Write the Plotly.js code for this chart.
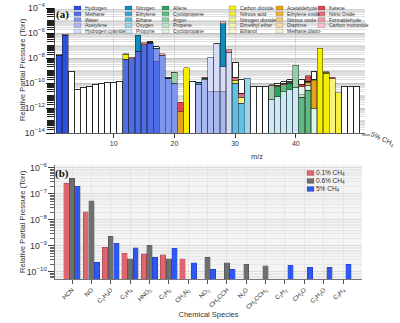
<!DOCTYPE html>
<html><head><meta charset="utf-8">
<script src="https://cdn.plot.ly/plotly-3.0.1.min.js"></script>
<style>html,body{margin:0;padding:0;background:#fff}#chart{width:400px;height:323px}</style>
</head><body><div id="chart"></div>
<script>
// ---------- Panel (a): contributions per species, [m/z, relative partial pressure (Torr)] ----------
const Hydrogen        = [[1,1.5e-8],[2,6.8e-7]];
const Methane         = [[1,2e-9],[12,8e-9],[13,9e-9],[14,3.5e-8],[15,1.1e-7],[16,1.5e-7],[17,5e-9]];
const Water           = [[17,5e-8],[18,1.6e-8],[19,2.5e-10],[20,1e-10]];
const Acetylene       = [[24,8e-11],[25,2e-10],[26,2e-11],[27,2e-11],[28,2e-11]];
const HydrogenCyanide = [[26,1.1e-8],[27,1.45e-7],[28,2e-9],[29,3e-8]];
const Nitrogen        = [[14,6.5e-7],[28,5.5e-6]];
const Ethylene        = [[24,3e-11],[25,5e-11]];
const Ethane          = [[30,1e-10],[31,2.5e-12]];
const Oxygen          = [[32,2.5e-10]];
const Propyne         = [[36,5e-12],[37,8e-12],[38,2e-11],[39,3e-11],[40,4.5e-11]];
const Allene          = [[37,4e-11],[39,7e-11]];
const Cyclopropene    = [[38,5e-11],[41,7e-12],[42,2.7e-11]];
const Argon           = [[20,5.5e-10],[36,5.5e-11],[40,2.7e-9]];
const Propene         = [[39,1e-11],[41,5e-12]];
const Cyclopropane    = [[41,4e-11],[42,4e-11],[43,1e-12]];
const CarbonDioxide   = [[12,1.2e-8],[22,1.6e-9],[44,6.3e-8],[45,6e-10]];
const NitrousAcid     = [[30,7e-11],[47,1.6e-11]];
const NitrogenDioxide = [[31,5e-12],[46,2.2e-10]];
const DimethylEther   = [[45,1.5e-10]];
const Ethanol         = [[45,3e-11]];
const Acetaldehyde    = [[21,5e-13],[43,1.5e-10]];
const EthyleneOxide   = [[42,5e-11],[43,5e-11]];
const NitrousOxide    = [[42,1e-11]];
const Diazirine       = [[42,5e-12]];
const MethaneDiazo    = [[42,3e-12]];
const Ketene          = [[21,2.5e-12],[25,5e-11],[27,1e-8],[36,1e-11],[37,1e-11],[38,1.5e-11],[39,2e-11],[41,3e-11],[42,2.3e-10]];
const NitricOxide     = [[15,5e-8],[30,1e-10],[31,8e-12],[46,6e-11]];
const Formaldehyde    = [[1,3e-9],[2,8e-8],[13,3e-9],[16,3e-8],[18,6e-9],[20,8e-11],[29,1.5e-8]];
const CarbonMonoxide  = [[12,1e-9],[28,2.5e-6]];
const Unassigned      = [[3,9e-10],[4,2.8e-11],[5,4e-11],[6,5.7e-11],[7,8e-11],[8,1e-10],[9,1.2e-10],[10,1.1e-10],[11,1.4e-10],
                         [16,2e-8],[17,2.5e-8],[19,5e-11],[23,1.4e-10],[24,1e-11],[30,4.5e-9],[31,1.6e-10],
                         [33,5.5e-11],[34,5.5e-11],[35,5.5e-11],[37,4e-11],[38,4.5e-11],[39,5e-11],[41,1e-10],[43,6e-10],
                         [48,5.5e-11],[49,5.5e-11],[50,5.5e-11]];

const speciesNames = ['Hydrogen','Methane','Water','Acetylene','Hydrogen cyanide',
  'Nitrogen','Ethylene','Ethane','Oxygen','Propyne',
  'Allene','Cyclopropene','Argon','Propene','Cyclopropane',
  'Carbon dioxide','Nitrous acid','Nitrogen dioxide','Dimethyl ether','Ethanol',
  'Acetaldehyde','Ethylene oxide','Nitrous oxide','Diazirine','Methane,diazo-',
  'Ketene','Nitric Oxide','Formaldehyde','Carbon monoxide'];
const speciesData = [Hydrogen,Methane,Water,Acetylene,HydrogenCyanide,
  Nitrogen,Ethylene,Ethane,Oxygen,Propyne,
  Allene,Cyclopropene,Argon,Propene,Cyclopropane,
  CarbonDioxide,NitrousAcid,NitrogenDioxide,DimethylEther,Ethanol,
  Acetaldehyde,EthyleneOxide,NitrousOxide,Diazirine,MethaneDiazo,
  Ketene,NitricOxide,Formaldehyde,CarbonMonoxide];
const speciesColors = ['#2b4fe0','#4d6de6','#7f95ec','#aab8f2','#d6ddf9',
  '#0f8dbf','#2fa8d6','#5cc1e4','#93d6ee','#c9eaf6',
  '#2ca25f','#5dbb80','#8dd1a4','#b9e3c6','#e0f3e6',
  '#f5ee00','#f6f03c','#f7f378','#f9f6ac','#fcfbd8',
  '#e7a21a','#edb642','#f1c974','#f5dca6','#faeed6',
  '#df4752','#e56d78','#ec97a0','#f5c3c9'];

// ---------- Panel (b): grouped bars ----------
const speciesB = ['HCN','NO','C<sub>2</sub>H<sub>4</sub>O','C<sub>2</sub>H<sub>4</sub>','HNO<sub>2</sub>','C<sub>2</sub>H<sub>6</sub>',
  'CH<sub>2</sub>N<sub>2</sub>','NO<sub>2</sub>','CH<sub>3</sub>CCH','N<sub>2</sub>O','CH<sub>2</sub>CCH<sub>2</sub>',
  'C<sub>2</sub>H<sub>2</sub>','CH<sub>2</sub>O','C<sub>2</sub>H<sub>2</sub>O','C<sub>3</sub>H<sub>4</sub>'];
const ch4_01 = [2.6e-7,2.1e-8,8.9e-10,5.2e-10,5.1e-10,4.6e-10,3.2e-10,null,null,null,null,null,null,null,null];
const ch4_06 = [4.0e-7,5.5e-8,2.4e-9,3.2e-10,1.07e-9,3.2e-10,null,3.7e-10,2.3e-10,2.0e-10,1.7e-10,null,null,null,null];
const ch4_5  = [2.0e-7,2.4e-10,1.26e-9,8.5e-10,3.7e-10,8.1e-10,2.3e-10,1.3e-10,1.3e-10,null,null,1.8e-10,1.55e-10,1.5e-10,2.0e-10];
const seriesB = [['0.1% CH<sub>4</sub>', ch4_01, '#e0656f'], ['0.6% CH<sub>4</sub>', ch4_06, '#6f6f6f'], ['5% CH<sub>4</sub>', ch4_5, '#2f57f2']];

const W = 400, H = 323;
const px = v => v / W, py = v => 1 - v / H;
const FONT = 'Liberation Sans, Arial, sans-serif';

const traces = [];
speciesData.forEach((arr, k) => {
  traces.push({type:'bar', xaxis:'x', yaxis:'y', name:speciesNames[k], showlegend:false,
    x: arr.map(p => p[0]), y: arr.map(p => p[1]), width: 0.96,
    marker:{color:speciesColors[k], line:{color:'rgba(20,20,20,0.7)', width:0.6}}});
});
traces.push({type:'bar', xaxis:'x', yaxis:'y', name:'Unassigned', showlegend:false,
  x: Unassigned.map(p => p[0]), y: Unassigned.map(p => p[1]), width: 0.96,
  marker:{color:'#ffffff', line:{color:'#1a1a1a', width:0.9}}});

const offs = [-0.29, 0, 0.29];
seriesB.forEach((s, j) => {
  traces.push({type:'bar', xaxis:'x2', yaxis:'y2', name:s[0], showlegend:false,
    x: s[1].map((v, i) => i + offs[j]), y: s[1], width: 0.28,
    marker:{color:s[2], line:{color:'rgba(0,0,0,0.35)', width:0.5}}});
});

const shapes = [], annotations = [];
shapes.push({type:'rect', xref:'paper', yref:'paper', x0:px(55), x1:px(362), y0:py(279), y1:py(165),
  fillcolor:'#f4f4f4', line:{width:0}, layer:'below'});
// legend (a)
const colX = [74,125,162,229,276,318], rowY = [8,13.8,19.6,25.4,31.2];
speciesNames.forEach((n, k) => {
  const c = Math.floor(k / 5), r = k % 5;
  shapes.push({type:'rect', xref:'paper', yref:'paper', x0:px(colX[c]), x1:px(colX[c]+7),
    y0:py(rowY[r]+2), y1:py(rowY[r]-2), fillcolor:speciesColors[k], line:{color:'rgba(0,0,0,0.4)', width:0.4}});
  annotations.push({xref:'paper', yref:'paper', x:px(colX[c]+9), y:py(rowY[r]), xanchor:'left', yanchor:'middle',
    text:n, showarrow:false, font:{family:FONT, size:5, color:'#333'}});
});
// legend (b)
const rowB = [173,181,189];
seriesB.forEach((s, j) => {
  shapes.push({type:'rect', xref:'paper', yref:'paper', x0:px(307), x1:px(314), y0:py(rowB[j]+2.5), y1:py(rowB[j]-2.5),
    fillcolor:s[2], line:{color:'rgba(0,0,0,0.3)', width:0.4}});
  annotations.push({xref:'paper', yref:'paper', x:px(314), y:py(rowB[j]), xanchor:'left', yanchor:'middle',
    text:s[0], showarrow:false, font:{family:FONT, size:6.5, color:'#333'}});
});
shapes.push({type:'line', xref:'paper', yref:'paper', x0:px(362), x1:px(370), y0:py(135), y1:py(135), line:{color:'#333', width:0.8}});
const note = (x, y, text, size, extra) => annotations.push(Object.assign({xref:'paper', yref:'paper', x:px(x), y:py(y),
  xanchor:'center', yanchor:'middle', text:text, showarrow:false, font:{family:FONT, size:size, color:'#333'}}, extra || {}));
note(382, 139, '5% CH<sub>4</sub>', 7, {textangle:25});
note(257, 156, 'm/z', 7.5);
note(22, 70, 'Relative Partial Pressure (Torr)', 7.5, {textangle:-90});
note(22, 222, 'Relative Partial Pressure (Torr)', 7.5, {textangle:-90});
note(62, 15, '<b>(a)</b>', 11, {font:{family:'Liberation Serif, serif', size:11, color:'#111'}});
note(62, 173, '<b>(b)</b>', 11, {font:{family:'Liberation Serif, serif', size:11, color:'#111'}});

const tickFont = {family:FONT, size:7, color:'#333'};
const layout = {
  width:W, height:H, margin:{l:0,r:0,t:0,b:0}, paper_bgcolor:'#fff', plot_bgcolor:'rgba(0,0,0,0)',
  barmode:'stack', showlegend:false, font:{family:FONT, color:'#333'},
  xaxis:{domain:[px(55), px(365)], range:[0.33, 51.4], anchor:'y', tickvals:[0,10,20,30,40],
    ticks:'outside', ticklen:4, tickcolor:'#333', showline:true, linecolor:'#333', linewidth:0.8,
    showgrid:true, gridcolor:'#c4c4c4', gridwidth:0.6, zeroline:false, tickfont:tickFont},
  yaxis:{domain:[py(133), py(8)], type:'log', range:[-14,-4], dtick:2, exponentformat:'power', anchor:'x',
    ticks:'outside', ticklen:8, tickcolor:'#111', showline:true, linecolor:'#222', linewidth:0.8,
    showgrid:true, gridcolor:'#b0b0b0', gridwidth:0.6, zeroline:false, tickfont:tickFont,
    minor:{dtick:'D1', showgrid:true, gridcolor:'#cacaca', ticks:'outside', ticklen:7, tickcolor:'#222'}},
  xaxis2:{domain:[px(55), px(362)], range:[-0.88, 14.98], anchor:'y2', tickmode:'array',
    tickvals:speciesB.map((s, i) => i), ticktext:speciesB, tickangle:-45,
    ticks:'outside', ticklen:4, tickcolor:'#555', showline:true, linecolor:'#555', linewidth:0.8,
    showgrid:true, gridcolor:'#dcdcdc', gridwidth:0.6, zeroline:false, tickfont:{family:FONT, size:6.2, color:'#333'},
    title:{text:'Chemical Species', font:{family:FONT, size:7.5, color:'#333'}, standoff:1}},
  yaxis2:{domain:[py(279), py(165)], type:'log', range:[-10.27,-5.885], dtick:1, exponentformat:'power', anchor:'x2',
    ticks:'outside', ticklen:6, tickcolor:'#444', showline:true, linecolor:'#444', linewidth:0.8,
    showgrid:true, gridcolor:'#cccccc', gridwidth:0.6, zeroline:false, tickfont:tickFont,
    minor:{dtick:'D1', showgrid:true, gridcolor:'#e0e0e0', ticks:'outside', ticklen:4, tickcolor:'#666'}},
  shapes:shapes, annotations:annotations
};
Plotly.newPlot('chart', traces, layout, {staticPlot:true, displayModeBar:false});
</script></body></html>
